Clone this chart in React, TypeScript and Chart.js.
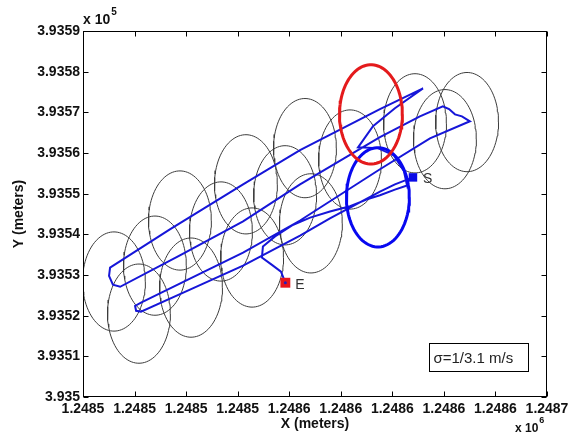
import React, { useEffect, useRef } from 'react';
import { Chart, registerables } from 'chart.js';

Chart.register(...registerables);

// Axis ranges (meters)
const X_MIN = 1248470;
const X_MAX = 1248650;
const X_STEP = 20;
const Y_MIN = 393500;
const Y_MAX = 393590;
const Y_STEP = 10;

const xTickLabels = ['1.2485', '1.2485', '1.2485', '1.2485', '1.2486', '1.2486', '1.2486', '1.2486', '1.2486', '1.2487'];
const yTickLabels = ['3.935', '3.9351', '3.9352', '3.9353', '3.9354', '3.9355', '3.9356', '3.9357', '3.9358', '3.9359'];

const xTitle = 'X (meters)';
const yTitle = 'Y (meters)';
const xExponent = '6';
const yExponent = '5';
const noteText = 'σ=1/3.1 m/s';

// Uncertainty circles (centres, meters) and common radius
const circleX = [1248482.0, 1248491.7, 1248497.9, 1248507.6, 1248511.9, 1248523.5, 1248533.2, 1248535.6, 1248548.4, 1248556.1, 1248558.4, 1248573.6, 1248598.8, 1248610.4, 1248619.0];
const circleY = [393528.4, 393520.5, 393532.3, 393543.4, 393526.9, 393540.7, 393552.3, 393534.3, 393549.6, 393561.2, 393542.7, 393558.4, 393567.3, 393563.4, 393567.6];
const circleRadius = 12.2;

// Highlighted circles: red, blue
const redCircleX = 1248581.7;
const redCircleY = 393569.5;
const blueCircleX = 1248584.4;
const blueCircleY = 393549.1;

// Vehicle track
const trackX = [
  1248598.0, 1248591.0, 1248585.2, 1248565.8, 1248554.2, 1248532.1, 1248511.5, 1248492.5, 1248490.6, 1248490.2,
  1248492.5, 1248511.5, 1248532.1, 1248554.2, 1248585.2, 1248604.6, 1248620.1, 1248617.0, 1248614.3, 1248612.0,
  1248609.6, 1248600.7, 1248585.2, 1248554.2, 1248532.1, 1248507.6, 1248484.4, 1248481.6, 1248480.1, 1248480.5,
  1248503.7, 1248532.1, 1248554.2, 1248585.2, 1248601.9, 1248591.0, 1248582.5, 1248576.7, 1248584.4, 1248590.6,
  1248594.5, 1248595.7, 1248591.0, 1248585.2, 1248580.2, 1248573.6, 1248565.8, 1248558.1, 1248551.1, 1248544.5,
  1248539.8, 1248539.4, 1248543.3, 1248546.8, 1248548.5,
];
const trackY = [
  393554.0, 393552.3, 393550.5, 393543.9, 393539.7, 393532.3, 393526.4, 393521.0, 393521.2, 393522.4,
  393523.2, 393529.1, 393535.5, 393543.4, 393556.0, 393563.6, 393567.8, 393569.0, 393569.5, 393570.8,
  393571.5, 393569.0, 393563.9, 393552.3, 393543.2, 393534.8, 393527.1, 393527.6, 393529.8, 393531.8,
  393541.2, 393552.3, 393560.7, 393570.8, 393575.9, 393571.0, 393566.6, 393561.4, 393561.2, 393559.4,
  393555.5, 393552.0, 393551.0, 393549.6, 393548.6, 393546.9, 393545.6, 393544.1, 393542.2, 393539.5,
  393537.0, 393534.3, 393532.5, 393530.8, 393528.1,
];

// Start / end markers
const markerNames = ['S', 'E'];
const markerX = [1248598.0, 1248548.5];
const markerY = [393554.0, 393528.1];

const FONT = '"Liberation Sans", Arial, Helvetica, sans-serif';

function circlePoints(cx: number, cy: number, r: number) {
  const pts: { x: number; y: number }[] = [];
  for (let i = 0; i <= 90; i++) {
    const t = (i / 90) * Math.PI * 2;
    pts.push({ x: cx + r * Math.cos(t), y: cy + r * Math.sin(t) });
  }
  return pts;
}

const framePlugin = {
  id: 'matlabFrame',
  afterDatasetsDraw(chart: any) {
    const { ctx, chartArea: a, scales } = chart;
    const xs = scales.x;
    const ys = scales.y;
    ctx.save();
    // marker labels
    ctx.fillStyle = '#333';
    ctx.font = `14px ${FONT}`;
    ctx.textAlign = 'left';
    ctx.textBaseline = 'middle';
    for (let i = 0; i < markerNames.length; i++) {
      const px = xs.getPixelForValue(markerX[i]);
      const py = ys.getPixelForValue(markerY[i]);
      ctx.fillText(markerNames[i], px + 10, py + 2);
    }

    const L = Math.round(a.left) + 0.5;
    const R = Math.round(a.right) - 0.5;
    const T = Math.round(a.top) + 0.5;
    const B = Math.round(a.bottom) - 0.5;
    ctx.strokeStyle = '#000';
    ctx.lineWidth = 1;
    ctx.strokeRect(L, T, R - L, B - T);
    const tl = 5;
    ctx.beginPath();
    xs.ticks.forEach((t: any) => {
      const px = Math.round(xs.getPixelForValue(t.value)) + 0.5;
      ctx.moveTo(px, B);
      ctx.lineTo(px, B - tl);
      ctx.moveTo(px, T);
      ctx.lineTo(px, T + tl);
    });
    ys.ticks.forEach((t: any) => {
      const py = Math.round(ys.getPixelForValue(t.value)) + 0.5;
      ctx.moveTo(L, py);
      ctx.lineTo(L + tl, py);
      ctx.moveTo(R, py);
      ctx.lineTo(R - tl, py);
    });
    ctx.stroke();

    // note box
    const bx = 429.5, by = 343.5, bw = 99, bh = 28;
    ctx.fillStyle = '#fff';
    ctx.fillRect(bx, by, bw, bh);
    ctx.strokeRect(bx, by, bw, bh);
    ctx.fillStyle = '#222';
    ctx.font = `15px ${FONT}`;
    ctx.textAlign = 'left';
    ctx.textBaseline = 'middle';
    ctx.fillText(noteText, bx + 4, by + bh / 2 + 1);

    // axis titles
    ctx.fillStyle = '#111';
    ctx.font = `bold 14px ${FONT}`;
    ctx.textAlign = 'center';
    ctx.textBaseline = 'middle';
    ctx.fillText(xTitle, (a.left + a.right) / 2, 424);
    ctx.save();
    ctx.translate(19, (a.top + a.bottom) / 2);
    ctx.rotate(-Math.PI / 2);
    ctx.fillText(yTitle, 0, 0);
    ctx.restore();

    // exponent multipliers
    ctx.textAlign = 'left';
    ctx.font = `bold 14px ${FONT}`;
    ctx.fillText('x 10', a.left, 20);
    const w1 = ctx.measureText('x 10').width;
    ctx.font = `bold 10px ${FONT}`;
    ctx.fillText(yExponent, a.left + w1 + 1, 12);

    ctx.font = `bold 12px ${FONT}`;
    ctx.fillText('x 10', 515, 429);
    const w2 = ctx.measureText('x 10').width;
    ctx.font = `bold 9px ${FONT}`;
    ctx.fillText(xExponent, 515 + w2 + 1, 421);
    ctx.restore();
  },
};

export default function App() {
  const ref = useRef<HTMLCanvasElement | null>(null);

  useEffect(() => {
    document.body.style.margin = '0';
    const canvas = ref.current;
    if (!canvas) return;

    const circleSets = circleX.map((cx, i) => ({
      label: 'circle' + i,
      data: circlePoints(cx, circleY[i], circleRadius),
      showLine: true,
      borderColor: '#3c3c3c',
      borderWidth: 1,
      pointRadius: 0,
      fill: false,
      tension: 0,
      order: 5,
    }));

    const chart = new Chart(canvas, {
      type: 'scatter',
      data: {
        datasets: [
          {
            label: 'E-dot',
            data: [{ x: markerX[1], y: markerY[1] }],
            pointStyle: 'circle',
            pointRadius: 1.5,
            backgroundColor: '#2020c0',
            borderWidth: 0,
            order: 0,
          },
          {
            label: 'E',
            data: [{ x: markerX[1], y: markerY[1] }],
            pointStyle: 'rect',
            pointRadius: 7,
            backgroundColor: '#e8141c',
            borderColor: '#e8141c',
            borderWidth: 0,
            order: 1,
          },
          {
            label: 'S',
            data: [{ x: markerX[0], y: markerY[0] }],
            pointStyle: 'rect',
            pointRadius: 6,
            backgroundColor: '#0a0ae6',
            borderColor: '#0a0ae6',
            borderWidth: 0,
            order: 1,
          },
          {
            label: 'red',
            data: circlePoints(redCircleX, redCircleY, circleRadius),
            showLine: true,
            borderColor: '#e41a1c',
            borderWidth: 3,
            pointRadius: 0,
            fill: false,
            order: 2,
          },
          {
            label: 'blue',
            data: circlePoints(blueCircleX, blueCircleY, circleRadius),
            showLine: true,
            borderColor: '#0808f0',
            borderWidth: 3,
            pointRadius: 0,
            fill: false,
            order: 2,
          },
          {
            label: 'track',
            data: trackX.map((x, i) => ({ x, y: trackY[i] })),
            showLine: true,
            borderColor: '#1616d8',
            borderWidth: 2,
            pointRadius: 0,
            fill: false,
            tension: 0,
            order: 3,
          },
          ...circleSets,
        ],
      },
      options: {
        animation: false,
        responsive: false,
        devicePixelRatio: 1,
        layout: { padding: { left: 0, right: 31, top: 31, bottom: 0 } },
        plugins: { legend: { display: false }, tooltip: { enabled: false } },
        scales: {
          x: {
            type: 'linear',
            min: X_MIN,
            max: X_MAX,
            grid: { display: false, drawTicks: false },
            border: { display: false },
            ticks: {
              stepSize: X_STEP,
              padding: 4,
              color: '#111',
              font: { family: FONT, size: 14, weight: 'bold' },
              maxRotation: 0,
              autoSkip: false,
              callback: (_v: any, i: number) => xTickLabels[i],
            },
            afterFit: (s: any) => {
              s.height = 46;
            },
          },
          y: {
            type: 'linear',
            min: Y_MIN,
            max: Y_MAX,
            grid: { display: false, drawTicks: false },
            border: { display: false },
            ticks: {
              stepSize: Y_STEP,
              padding: 3,
              color: '#111',
              font: { family: FONT, size: 14, weight: 'bold' },
              autoSkip: false,
              callback: (_v: any, i: number) => yTickLabels[i],
            },
            afterFit: (s: any) => {
              s.width = 83;
            },
          },
        },
      },
      plugins: [framePlugin],
    });

    return () => chart.destroy();
  }, []);

  return (
    <div style={{ position: 'fixed', left: 0, top: 0, width: 578, height: 443, background: '#fff' }}>
      <canvas ref={ref} width={578} height={443} style={{ width: 578, height: 443, display: 'block' }} />
    </div>
  );
}
